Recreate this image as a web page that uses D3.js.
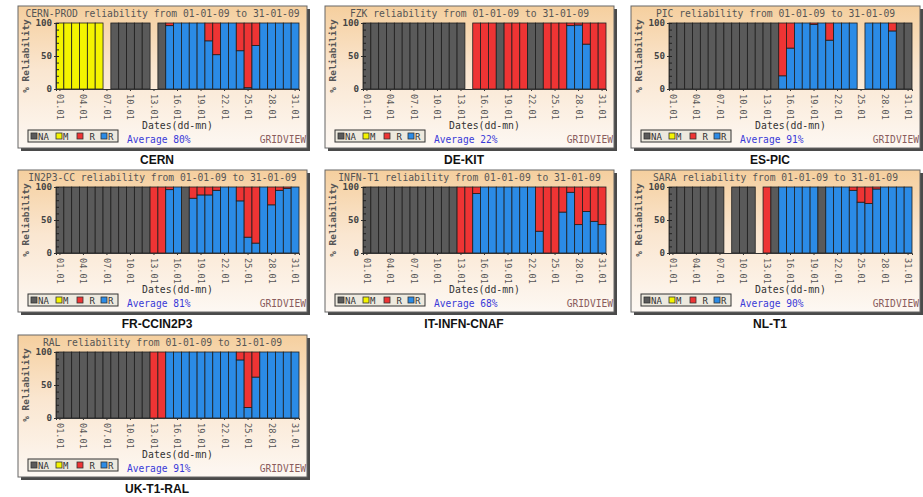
<!DOCTYPE html>
<html>
<head>
<meta charset="utf-8">
<script src="https://cdn.jsdelivr.net/npm/d3@7"></script>
<style>
html,body{margin:0;padding:0;background:#fff;}
svg{display:block;}
</style>
</head>
<body>
<svg id="chart" width="923" height="497"></svg>
<script>
// ---- data ----
const days = ["01.01","02.01","03.01","04.01","05.01","06.01","07.01","08.01","09.01","10.01",
  "11.01","12.01","13.01","14.01","15.01","16.01","17.01","18.01","19.01","20.01",
  "21.01","22.01","23.01","24.01","25.01","26.01","27.01","28.01","29.01","30.01","31.01"];
const tickDays = ["01.01","04.01","07.01","10.01","13.01","16.01","19.01","22.01","25.01","28.01","31.01"];
const yTicks = [0, 50, 100];

const siteNames = ["CERN","DE-KIT","ES-PIC","FR-CCIN2P3","IT-INFN-CNAF","NL-T1","UK-T1-RAL"];
const siteTitles = ["CERN-PROD","FZK","PIC","IN2P3-CC","INFN-T1","SARA","RAL"];
const siteAverages = [80, 22, 91, 81, 68, 90, 91];

// number = % reliable (blue, rest red); "NA" = not available; "M" = maintenance; null = no data
const cernValues = ["M","M","M","M","M","M",null,"NA","NA","NA","NA","NA",null,"NA",
  96,100,100,100,100,73,52,100,100,58,2,66,100,100,100,100,100];
const deKitValues = ["NA","NA","NA","NA","NA","NA","NA","NA","NA","NA","NA","NA","NA",null,
  0,0,0,"NA",0,0,0,"NA","NA",0,0,0,96,97,68,0,0];
const esPicValues = ["NA","NA","NA","NA","NA","NA","NA","NA","NA","NA","NA","NA","NA","NA",
  20,62,100,100,98,100,74,100,100,100,null,100,100,100,88,"NA","NA"];
const frValues = ["NA","NA","NA","NA","NA","NA","NA","NA","NA","NA","NA","NA",
  0,0,96,100,"NA",83,88,88,95,100,100,79,24,15,100,73,95,98,100];
const itValues = ["NA","NA","NA","NA","NA","NA","NA","NA","NA","NA","NA","NA",
  0,0,90,100,100,100,100,100,100,100,33,0,0,62,92,43,63,48,43];
const nlValues = ["NA","NA","NA","NA","NA","NA","NA",null,"NA","NA","NA",null,0,"NA",
  100,100,100,100,100,"NA",100,100,100,95,77,75,97,100,100,100,100];
const ukValues = ["NA","NA","NA","NA","NA","NA","NA","NA","NA","NA","NA","NA",
  0,0,100,100,100,100,100,100,100,100,100,88,16,62,100,100,100,100,100];

const siteValues = [cernValues, deKitValues, esPicValues, frValues, itValues, nlValues, ukValues];
const legendItems = [["NA","#5a5a5a"],["M","#f4f400"],[" R","#ee3434"],["R","#2b8be6"]];

// ---- drawing ----
const colors = {NA:"#5a5a5a", M:"#f4f400", red:"#ee3434", blue:"#2b8be6"};
const svg = d3.select("#chart");
const defs = svg.append("defs");
const grad = defs.append("linearGradient").attr("id","bg").attr("x1",0).attr("y1",0).attr("x2",0).attr("y2",1);
grad.append("stop").attr("offset","0%").attr("stop-color","#f5cf9e");
grad.append("stop").attr("offset","45%").attr("stop-color","#fae6d0");
grad.append("stop").attr("offset","100%").attr("stop-color","#fdf8f3");

const colX = [18, 325, 631];
const rowY = [6, 170, 335];
const FW = 289, FH = 142;
const P = {x:38, y:17, w:243, h:66};
const mono = "'DejaVu Sans Mono', 'Liberation Mono', monospace";

siteNames.forEach((name, i) => {
  const fx = colX[i % 3], fy = rowY[Math.floor(i / 3)];
  const g = svg.append("g").attr("transform", `translate(${fx},${fy})`);
  // shadow + frame
  g.append("rect").attr("x",3).attr("y",3).attr("width",FW).attr("height",FH).attr("fill","#4a4a4a");
  g.append("rect").attr("x",0).attr("y",0).attr("width",FW).attr("height",FH)
    .attr("fill","url(#bg)").attr("stroke","#666").attr("stroke-width",1);

  g.append("text").attr("x",FW/2).attr("y",11).attr("text-anchor","middle")
    .attr("font-family",mono).attr("font-size",9.7).attr("fill","#555")
    .text(`${siteTitles[i]} reliability from 01-01-09 to 31-01-09`);

  const x = d3.scaleBand().domain(days).range([P.x, P.x + P.w]).padding(0);
  const y = d3.scaleLinear().domain([0,100]).range([P.y + P.h, P.y]);

  const segs = [];
  siteValues[i].forEach((v, d) => {
    if (v === null) return;
    if (v === "NA") segs.push({day: days[d], y0: 0, y1: 100, c: colors.NA});
    else if (v === "M") segs.push({day: days[d], y0: 0, y1: 100, c: colors.M});
    else {
      if (v > 0) segs.push({day: days[d], y0: 0, y1: v, c: colors.blue});
      if (v < 100) segs.push({day: days[d], y0: v, y1: 100, c: colors.red});
    }
  });
  g.append("g").selectAll("rect").data(segs).join("rect")
    .attr("x", s => x(s.day)).attr("width", x.bandwidth())
    .attr("y", s => y(s.y1)).attr("height", s => y(s.y0) - y(s.y1))
    .attr("fill", s => s.c).attr("stroke","#1e1e1e").attr("stroke-width",0.8);

  // y axis
  const ya = g.append("g").attr("transform",`translate(${P.x},0)`)
    .call(d3.axisLeft(y).tickValues(yTicks).tickSize(2).tickPadding(2));
  ya.select(".domain").attr("stroke","#333");
  ya.selectAll("text").attr("font-family",mono).attr("font-size",9.2).attr("fill","#444").attr("font-weight","bold");
  ya.selectAll("line").attr("stroke","#333");
  // minor ticks
  const ym = g.append("g").attr("transform",`translate(${P.x},0)`)
    .call(d3.axisRight(y).ticks(10).tickSize(3).tickFormat(""));
  ym.select(".domain").remove();
  ym.selectAll("line").attr("stroke","#222");

  // x axis
  const xa = g.append("g").attr("transform",`translate(0,${P.y + P.h})`)
    .call(d3.axisBottom(x).tickValues(tickDays).tickSize(2).tickPadding(0));
  xa.select(".domain").attr("stroke","#333");
  xa.selectAll("line").attr("stroke","#333");
  xa.selectAll("text").attr("font-family",mono).attr("font-size",8.6).attr("fill","#555")
    .attr("text-anchor","start").attr("dy","0.35em")
    .attr("transform","translate(0,5) rotate(90)").attr("x",0).attr("y",0);

  g.append("text").attr("transform",`translate(11,${P.y + P.h/2}) rotate(-90)`)
    .attr("text-anchor","middle").attr("font-family",mono).attr("font-size",9.4)
    .attr("font-weight","bold").attr("fill","#555").text("% Reliability");

  g.append("text").attr("x", P.x + P.w/2).attr("y",123).attr("text-anchor","middle")
    .attr("font-family",mono).attr("font-size",9.8).attr("fill","#333").text("Dates(dd-mn)");

  // legend
  const lg = g.append("g");
  lg.append("rect").attr("x",10).attr("y",124).attr("width",90).attr("height",12)
    .attr("fill","#ede9de").attr("stroke","#333").attr("stroke-width",1);
  const lx = [13, 38, 59, 83];
  legendItems.forEach((it, k) => {
    lg.append("rect").attr("x",lx[k]).attr("y",127).attr("width",6).attr("height",6)
      .attr("fill",it[1]).attr("stroke","#333").attr("stroke-width",0.8);
    lg.append("text").attr("x",lx[k]+7).attr("y",133.5).attr("font-family",mono)
      .attr("font-size",9).attr("fill","#333").attr("xml:space","preserve").text(it[0]);
  });

  g.append("text").attr("x",109).attr("y",137).attr("font-family",mono).attr("font-size",9.6)
    .attr("fill","#3a3ad8").text(`Average ${siteAverages[i]}%`);
  g.append("text").attr("x",FW - 1).attr("y",137).attr("text-anchor","end").attr("font-family",mono)
    .attr("font-size",9.6).attr("fill","#8a5c5c").text("GRIDVIEW");

  g.append("text").attr("x",139).attr("y",158).attr("text-anchor","middle")
    .attr("font-family","'Liberation Sans', Arial, sans-serif").attr("font-weight","bold")
    .attr("font-size",12).attr("fill","#111").text(name);
});
</script>
</body>
</html>
